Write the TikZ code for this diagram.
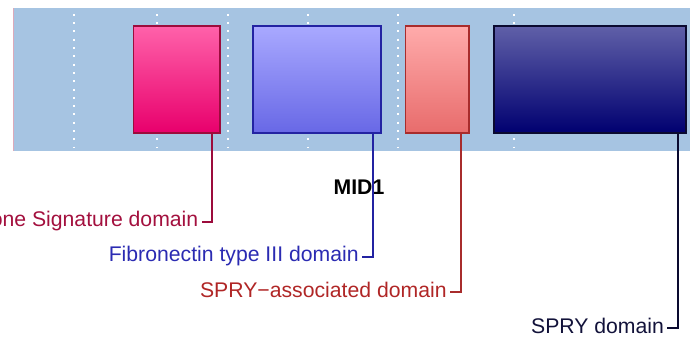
\documentclass[tikz,border=0pt]{standalone}
\usepackage{fontspec}
\setmainfont{Liberation Sans}
\usepackage{tikz}
\usepackage{xcolor}
\usetikzlibrary{positioning}
\definecolor{Band}{HTML}{A6C4E2}
\definecolor{SigLine}{HTML}{9C0C3C}
\definecolor{SigText}{HTML}{A3103E}
\definecolor{FnLine}{HTML}{2323A2}
\definecolor{FnText}{HTML}{2B2BB2}
\definecolor{PryLine}{HTML}{A82C2C}
\definecolor{PryText}{HTML}{B02626}
\definecolor{SpryLine}{HTML}{0A0A30}
\definecolor{SpryText}{HTML}{12123A}
\definecolor{HotPinkTop}{HTML}{FF62AA}
\definecolor{HotPinkBot}{HTML}{E8006C}
\definecolor{FnTop}{HTML}{A9A9FF}
\definecolor{FnBot}{HTML}{6868E6}
\definecolor{PryTop}{HTML}{FFABAB}
\definecolor{PryBot}{HTML}{E86C6C}
\definecolor{SpryTop}{HTML}{6060A8}
\definecolor{SpryBot}{HTML}{000070}

\begin{document}
\begin{tikzpicture}[
    x=0.5pt, y=-0.5pt,
    dombox/.style={line width=0.8pt, minimum height=53.5pt, inner sep=0pt, outer sep=0pt},
    lbl/.style={anchor=east, inner sep=1.5pt, text height=0.72em, text depth=0.2em, font=\fontsize{10.6}{12}\selectfont},
    conn/.style={line width=0.9pt},
    guide/.style={white, line width=1pt, dash pattern=on 1pt off 3.15pt}
]
\useasboundingbox (0,0) rectangle (690,339);

% Protein band
\fill[Band] (13,8) rectangle (690,150.7);
\draw[SigLine!35, line width=0.5pt] (13,8) -- (13,150.7);
\foreach \gx in {73.7,156.7,227.7,308,398.3,514}
  \draw[guide] (\gx,13.8) -- (\gx,148);

% Domains
\node[dombox, draw=SigLine, top color=HotPinkTop, bottom color=HotPinkBot, minimum width=43.35pt] (cos) at (176.7,79.2) {};
\node[dombox, draw=FnLine, top color=FnTop, bottom color=FnBot, minimum width=64pt] (fn3) at (316.7,79.2) {};
\node[dombox, draw=PryLine, top color=PryTop, bottom color=PryBot, minimum width=31.65pt] (pry) at (437.3,79.2) {};
\node[dombox, draw=SpryLine, top color=SpryTop, bottom color=SpryBot, minimum width=96pt] (spry) at (589.7,79.2) {};

% Title
\node[font=\fontsize{10.6}{12}\selectfont\bfseries] (title) at (359,186.7) {MID1};

% Labels
\node[lbl, text=SigText] (coslbl) at (201.7,221.7) {C-terminal subgroup one Signature domain};
\node[lbl, text=FnText] (fn3lbl) at (362,256.7) {Fibronectin type III domain};
\node[lbl, text=PryText] (prylbl) at (450,292.3) {SPRY−associated domain};
\node[lbl, text=SpryText] (sprylbl) at (667.3,328.3) {SPRY domain};

\draw[conn, SigLine] ([xshift=-4pt]cos.south east) |- (coslbl.east);
\draw[conn, FnLine] ([xshift=-3.7pt]fn3.south east) |- (fn3lbl.east);
\draw[conn, PryLine] ([xshift=-4.15pt]pry.south east) |- (prylbl.east);
\draw[conn, SpryLine] ([xshift=-3.7pt]spry.south east) |- (sprylbl.east);

\end{tikzpicture}
\end{document}
